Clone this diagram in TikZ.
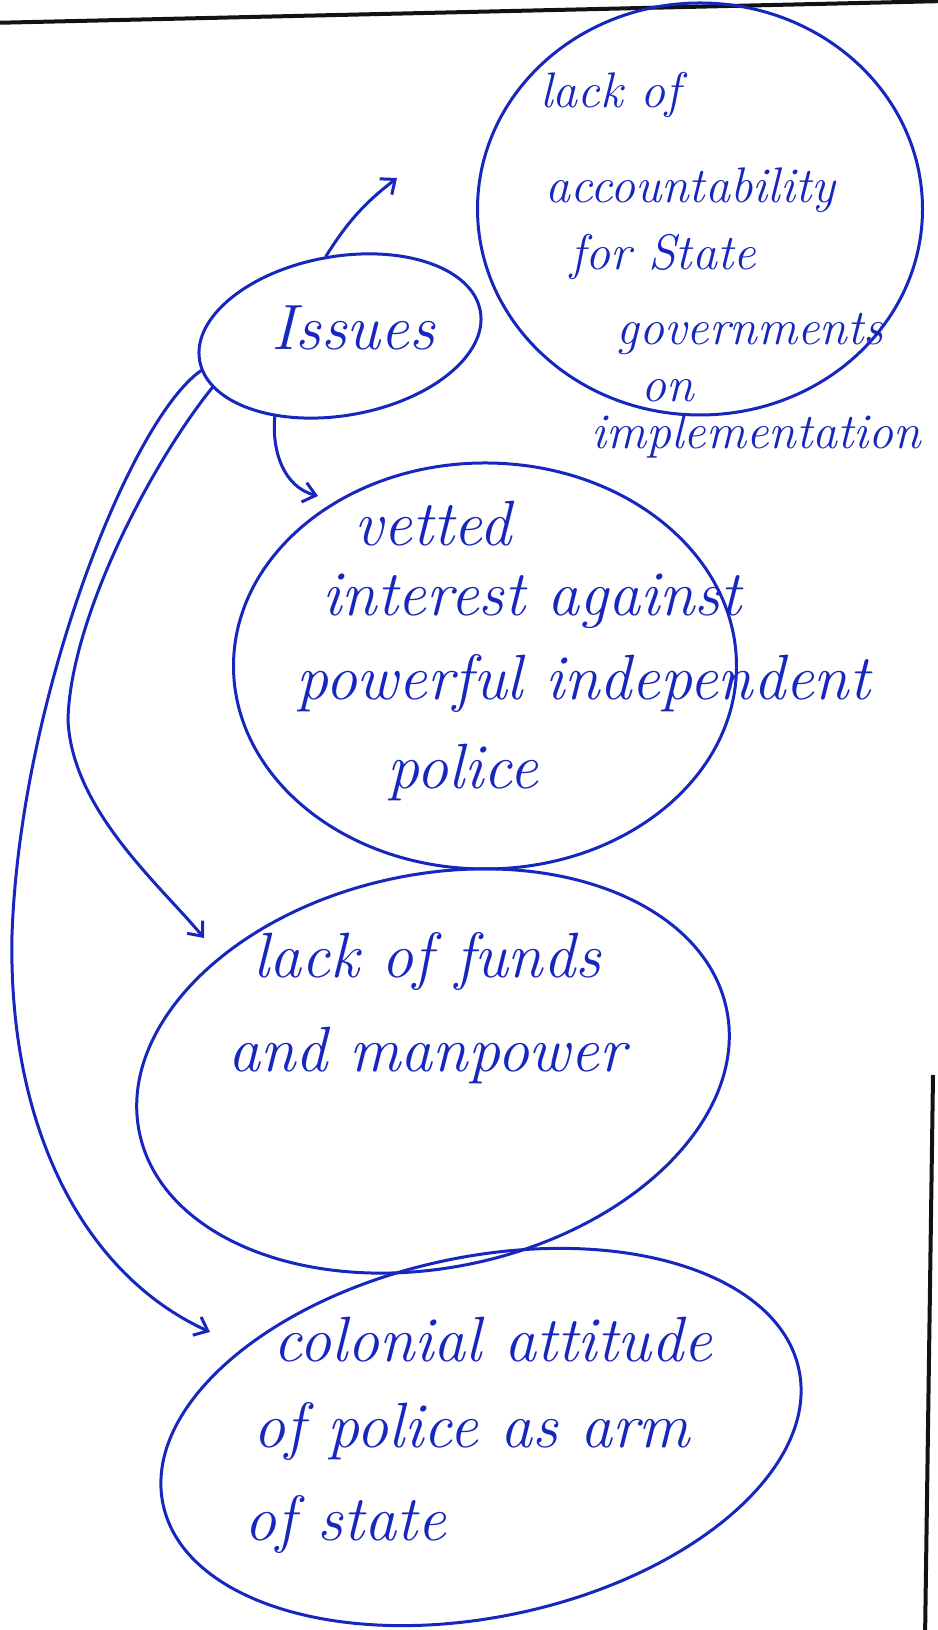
\documentclass[tikz,border=0pt]{standalone}
\usepackage{fontspec}
\usepackage{xcolor}
\usepackage{tikz}
\usetikzlibrary{shapes.geometric, arrows.meta}
\definecolor{ink}{RGB}{22, 38, 190}
\definecolor{rulecol}{RGB}{18, 18, 18}
\tikzset{
  bubble/.style={ellipse, draw=ink, line width=3pt, inner sep=0pt},
  handtext/.style={text=ink, font=\fontsize{64}{70}\selectfont\itshape, inner sep=0pt, anchor=base},
  smalltext/.style={handtext, font=\fontsize{50}{56}\selectfont\itshape},
  issueline/.style={draw=ink, line width=3pt, line cap=round, -{Straight Barb[length=12pt, width=20pt]}},
  pageline/.style={draw=rulecol, line width=4pt}
}
\begin{document}
\begin{tikzpicture}[x=1pt, y=1pt]
  \useasboundingbox (0,0) rectangle (937,1630);

  % Page rules
  \draw[pageline] (-10,1607) -- (947,1629);
  \draw[pageline] (933,555) -- (925,-10);

  % Bubbles
  \node[bubble, minimum width=445pt, minimum height=412pt] (acc) at (700,1421) {};
  \node[bubble, minimum width=285pt, minimum height=159pt, rotate=10] (issues) at (340,1294) {};
  \node[bubble, minimum width=503pt, minimum height=406pt] (vested) at (485,964) {};
  \node[bubble, minimum width=600pt, minimum height=393pt, rotate=12] (funds) at (433,559) {};
  \node[bubble, minimum width=650pt, minimum height=360pt, rotate=12] (colonial) at (481,193) {};

  % Texts
  \node[handtext] (issuestxt) at (353,1280) {Issues};
  \foreach \txt/\x/\y [count=\i] in {lack of/610/1522, accountability/690/1427,
      for State/663/1360, governments/750/1285, on/668/1228, implementation/756/1181}
    \node[smalltext] (acctxt\i) at (\x,\y) {\txt};
  \foreach \txt/\x/\y [count=\i] in {vetted/433/1084, interest against/532/1014,
      powerful independent/583/930, police/463/841}
    \node[handtext] (vestedtxt\i) at (\x,\y) {\txt};
  \foreach \txt/\x/\y [count=\i] in {lack of funds/427/652, and manpower/427/558}
    \node[handtext] (fundstxt\i) at (\x,\y) {\txt};
  \foreach \txt/\x/\y [count=\i] in {colonial attitude/493/268, of police as arm/472/182,
      of state/345/89}
    \node[handtext] (colonialtxt\i) at (\x,\y) {\txt};

  % Arrow ends
  \coordinate (acctip) at (397,1452);
  \coordinate (vestedtip) at (318,1134);
  \coordinate (fundstip) at (204,692);
  \coordinate (colonialtip) at (210,298);

  % Connections
  \draw[issueline] (issues.north) to[bend left=10] (acctip);
  \draw[issueline] (issues.-139) to[out=-95, in=165] (vestedtip);
  \draw[issueline] (issues.-168) .. controls (150,1165) and (70,1010) .. (68,910)
    .. controls (72,820) and (160,745) .. (fundstip);
  \draw[issueline] (issues.-176) .. controls (130,1210) and (20,930) .. (12,695)
    .. controls (8,500) and (85,355) .. (colonialtip);

\end{tikzpicture}
\end{document}
